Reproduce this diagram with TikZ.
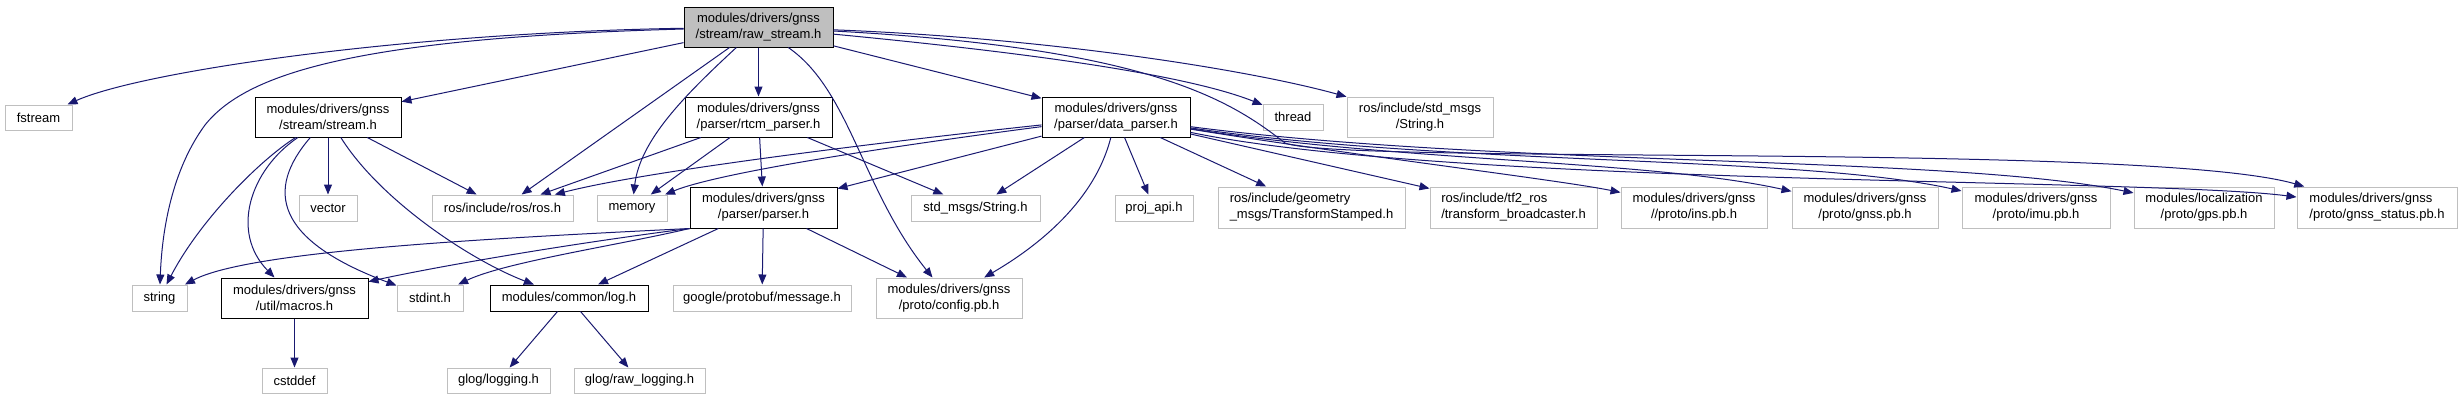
\documentclass[tikz,border=0pt]{standalone}
\usepackage{fontspec}
\setmainfont{Liberation Sans}
\usetikzlibrary{arrows.meta}
\definecolor{edgeblue}{HTML}{191970}
\definecolor{boxgray}{HTML}{BFBFBF}
\tikzset{
  fbox/.style={draw=boxgray, line width=1pt, fill=white, inner sep=0pt, align=center,
    font=\fontsize{13}{16}\selectfont, text=black},
  dbox/.style={fbox, draw=black},
  mainbox/.style={dbox, fill=boxgray},
  sz/.style 2 args={minimum width=#1, minimum height=#2},
  dep/.style={draw=edgeblue, line width=1pt, -{Triangle[length=10pt,width=8pt]}},
}
\begin{document}
\begin{tikzpicture}[x=1pt,y=-1pt]
\useasboundingbox (0,0) rectangle (2461,400);
% nodes
\node[mainbox, sz={149pt}{40pt}] (R) at (758.5,27) {modules/drivers/gnss\\/stream/raw\_stream.h};
\node[fbox, sz={67pt}{25pt}] (fstream) at (38.5,117.5) {fstream};
\node[dbox, sz={146pt}{40pt}] (S) at (328,117) {modules/drivers/gnss\\/stream/stream.h};
\node[dbox, sz={147pt}{40pt}] (T) at (758.5,117) {modules/drivers/gnss\\/parser/rtcm\_parser.h};
\node[dbox, sz={148pt}{40pt}] (D) at (1116,117) {modules/drivers/gnss\\/parser/data\_parser.h};
\node[fbox, sz={60pt}{26pt}] (thread) at (1293,117) {thread};
\node[fbox, sz={146pt}{40pt}] (rosstr) at (1420,117) {ros/include/std\_msgs\\/String.h};
\node[fbox, sz={58pt}{26pt}] (vector) at (328,208) {vector};
\node[fbox, sz={141pt}{26pt}] (ros) at (502.5,208) {ros/include/ros/ros.h};
\node[fbox, sz={70pt}{26pt}] (memory) at (632,208) {memory};
\node[dbox, sz={147pt}{41pt}] (P) at (763.5,207.5) {modules/drivers/gnss\\/parser/parser.h};
\node[fbox, sz={129pt}{26pt}] (stdstr) at (975.5,208) {std\_msgs/String.h};
\node[fbox, sz={78pt}{26pt}] (proj) at (1154,208) {proj\_api.h};
\node[fbox, sz={187pt}{41pt}, align=left] (geom) at (1311.5,207.5) {ros/include/geometry\\\_msgs/TransformStamped.h};
\node[fbox, sz={167pt}{41pt}, align=left] (tf) at (1513.5,207.5) {ros/include/tf2\_ros\\/transform\_broadcaster.h};
\node[fbox, sz={146pt}{41pt}] (ins) at (1694,207.5) {modules/drivers/gnss\\//proto/ins.pb.h};
\node[fbox, sz={146pt}{41pt}] (gnss) at (1865,207.5) {modules/drivers/gnss\\/proto/gnss.pb.h};
\node[fbox, sz={148pt}{41pt}] (imu) at (2036,207.5) {modules/drivers/gnss\\/proto/imu.pb.h};
\node[fbox, sz={140pt}{41pt}] (gps) at (2204,207.5) {modules/localization\\/proto/gps.pb.h};
\node[fbox, sz={160pt}{41pt}, align=left] (gstat) at (2377,207.5) {modules/drivers/gnss\\/proto/gnss\_status.pb.h};
\node[fbox, sz={55pt}{26pt}] (string) at (159.5,298) {string};
\node[dbox, sz={147pt}{40pt}] (macros) at (294.5,298) {modules/drivers/gnss\\/util/macros.h};
\node[fbox, sz={66pt}{26pt}] (stdint) at (430,298) {stdint.h};
\node[dbox, sz={158pt}{26pt}] (log) at (569,298) {modules/common/log.h};
\node[fbox, sz={178pt}{26pt}] (google) at (762,298) {google/protobuf/message.h};
\node[fbox, sz={146pt}{40pt}] (config) at (949,298) {modules/drivers/gnss\\/proto/config.pb.h};
\node[fbox, sz={65pt}{25pt}] (cstddef) at (294.5,380.5) {cstddef};
\node[fbox, sz={103pt}{25pt}] (glog) at (498.5,380.5) {glog/logging.h};
\node[fbox, sz={131pt}{25pt}] (graw) at (639.5,380.5) {glog/raw\_logging.h};
% edges from raw_stream.h
\draw[dep] (R) .. controls (400,33) and (140,72) .. (fstream);
\draw[dep] (R) .. controls (350,38) and (245,75) .. (205,125) .. controls (172,170) and (162,230) .. (string);
\draw[dep] (R) -- (S);
\draw[dep] (R) -- (ros);
\draw[dep] (R) .. controls (685,95) and (640,140) .. (memory);
\draw[dep] (R) -- (T);
\draw[dep] (R) .. controls (850,90) and (862,190) .. (config);
\draw[dep] (R) -- (D);
\draw[dep] (R) .. controls (1000,50) and (1180,72) .. (thread);
\draw[dep] (R) .. controls (1050,38) and (1250,70) .. (rosstr);
\draw[dep] (R) .. controls (1150,48) and (1230,100) .. (1285,143) .. controls (1340,165) and (2150,142) .. (gstat);
% edges from data_parser.h
\draw[dep] (D) -- (P);
\draw[dep] (D) .. controls (900,140) and (650,170) .. (ros);
\draw[dep] (D) .. controls (900,145) and (720,172) .. (memory);
\draw[dep] (D) -- (stdstr);
\draw[dep] (D) .. controls (1095,200) and (1040,245) .. (config);
\draw[dep] (D) -- (proj);
\draw[dep] (D) -- (geom);
\draw[dep] (D) -- (tf);
\draw[dep] (D) .. controls (1350,155) and (1560,180) .. (ins);
\draw[dep] (D) .. controls (1400,162) and (1650,160) .. (gnss);
\draw[dep] (D) .. controls (1450,166) and (1800,155) .. (imu);
\draw[dep] (D) .. controls (1500,167) and (1950,155) .. (gps);
\draw[dep] (D) .. controls (1450,186) and (2150,178) .. (gstat);
% edges from rtcm_parser.h
\draw[dep] (T) -- (ros);
\draw[dep] (T) -- (memory);
\draw[dep] (T) -- (P);
\draw[dep] (T) -- (stdstr);
% edges from stream.h
\draw[dep] (S) .. controls (260,160) and (200,220) .. (string);
\draw[dep] (S) .. controls (250,170) and (230,232) .. (macros);
\draw[dep] (S) -- (vector);
\draw[dep] (S) .. controls (265,190) and (275,240) .. (stdint);
\draw[dep] (S) .. controls (380,200) and (470,260) .. (log);
\draw[dep] (S) -- (ros);
% edges from parser.h
\draw[dep] (P.south west) .. controls (500,238) and (250,250) .. (string);
\draw[dep] (P.south west) .. controls (560,245) and (430,268) .. (macros);
\draw[dep] (P.south west) .. controls (620,245) and (505,262) .. (stdint);
\draw[dep] (P) -- (log);
\draw[dep] (P) -- (google);
\draw[dep] (P) -- (config);
% others
\draw[dep] (macros) -- (cstddef);
\draw[dep] (log) -- (glog);
\draw[dep] (log) -- (graw);
\end{tikzpicture}
\end{document}
